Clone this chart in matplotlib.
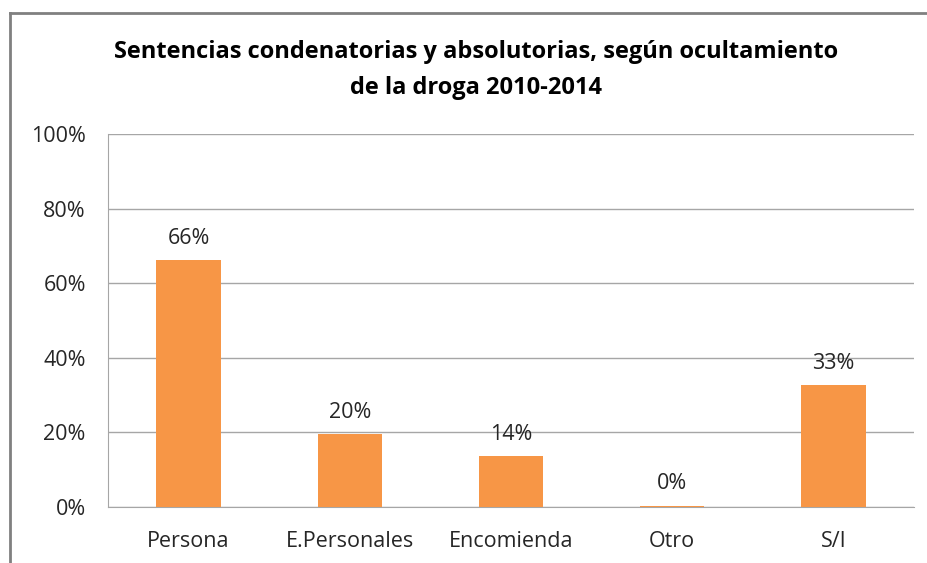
import matplotlib
matplotlib.use("Agg")
import matplotlib.pyplot as plt
from matplotlib.lines import Line2D
from matplotlib.ticker import FuncFormatter

categories = ["Persona", "E.Personales", "Encomienda", "Otro", "S/I"]
values = [66.2, 19.6, 13.6, 0.4, 32.6]
labels = ["66%", "20%", "14%", "0%", "33%"]
yticks = [0, 20, 40, 60, 80, 100]

plt.rcParams['font.family'] = ['Open Sans', 'DejaVu Sans']
W, H = 927, 563
fig = plt.figure(figsize=(W / 100, H / 100), dpi=100)
ax = fig.add_axes([108 / W, 1 - 507 / H, (914 - 108) / W, (507 - 134) / H])

bar_color = "#F79646"
grid_color = "#A6A6A6"
text_color = "#262626"
fs = 15.5

x = list(range(len(categories)))
ax.bar(x, values, width=0.4, color=bar_color, zorder=3)
ax.set_xlim(-0.5, len(categories) - 0.5)
ax.set_ylim(0, 100)
ax.set_yticks(yticks)
ax.yaxis.set_major_formatter(FuncFormatter(lambda v, p: f"{int(v)}%"))
ax.set_xticks(x)
ax.set_xticklabels(categories)
ax.tick_params(axis='both', length=0, labelsize=fs, colors=text_color)
ax.tick_params(axis='y', pad=16)
ax.tick_params(axis='x', pad=17)
ax.grid(axis='y', color=grid_color, linewidth=1, zorder=0)
for s in ["top", "right"]:
    ax.spines[s].set_visible(False)
ax.spines["left"].set_color(grid_color)
ax.spines["bottom"].set_color(grid_color)

for xi, v, lab in zip(x, values, labels):
    ax.annotate(lab, (xi, v), xytext=(0, 8), textcoords="offset points",
                ha="center", va="bottom", fontsize=fs, color=text_color)

fig.text(476 / W, 1 - 52 / H, "Sentencias condenatorias y absolutorias, según ocultamiento",
         ha="center", va="center", fontsize=17, fontweight="bold", color="black")
fig.text(476 / W, 1 - 88 / H, "de la droga 2010-2014",
         ha="center", va="center", fontsize=17, fontweight="bold", color="black")

# outer chart frame
fig.add_artist(Line2D([10 / W, 10 / W], [0, 1 - 13 / H], transform=fig.transFigure,
                      color="#808080", linewidth=2))
fig.add_artist(Line2D([10 / W, 1], [1 - 13 / H, 1 - 13 / H], transform=fig.transFigure,
                      color="#808080", linewidth=2))

fig.savefig("out.png", dpi=100)
